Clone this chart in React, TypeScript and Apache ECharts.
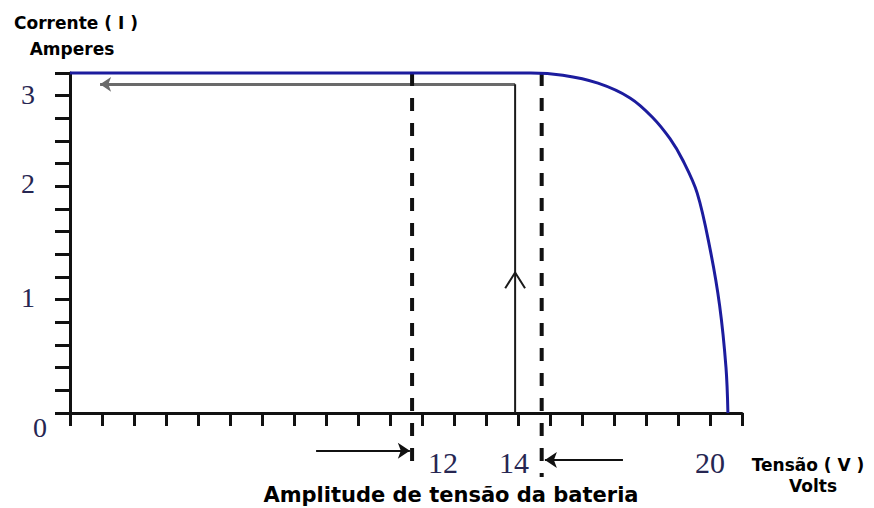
import React, { useEffect, useRef } from 'react';
import * as echarts from 'echarts';

// Axis tick labels shown
const xTickLabels = [12, 14, 20];
const yTickLabels = [0, 1, 2, 3];

// I-V curve (Volts, Amperes)
const curveV = [0, 4, 8, 12, 14.4, 15.4, 16.5, 17.5, 18.2, 18.75, 19.15, 19.6, 20.0, 20.3, 20.5, 20.56];
const curveI = [3.0, 3.0, 3.0, 3.0, 3.0, 2.98, 2.91, 2.78, 2.61, 2.42, 2.23, 1.94, 1.45, 0.95, 0.4, 0];

// Battery voltage range (dashed markers)
const rangeV = [10.69, 14.74];
const rangeTopI = [3.0, 3.0];
const rangeBottomI = [-0.5, -0.565];

// Operating point path
const opV = 13.91;
const opI = 2.9;
const arrowLeftEndV = 0.94;
const chevronV = [13.6, 13.91, 14.22];
const chevronI = [1.1, 1.24, 1.1];

// Bottom arrows pointing toward the range markers
const arrowInV = [7.69, 10.62];
const arrowInI = -0.333;
const arrowOutV = [17.28, 14.84];
const arrowOutI = -0.415;

const serif = '"Liberation Serif", "DejaVu Serif", serif';
const bold = '"DejaVu Sans", sans-serif';
const labelColor = '#262652';

export default function App() {
  const ref = useRef<HTMLDivElement>(null);
  useEffect(() => {
    document.body.style.margin = '0';
    const chart = echarts.init(ref.current!, undefined, { renderer: 'svg' });
    const curve = curveV.map((v, i) => [v, curveI[i]]);
    const xr = (pad: number[]) => ({ fontFamily: serif, fontSize: 30, color: labelColor, padding: pad });
    const yr = (pad: number[]) => ({ fontFamily: serif, fontSize: 28, color: labelColor, padding: pad });
    const option: any = {
      animation: false,
      backgroundColor: '#ffffff',
      grid: { left: 70, right: 132, top: 73, bottom: 95, containLabel: false, outerBoundsMode: 'none' },
      xAxis: {
        type: 'value',
        min: 0,
        max: 21,
        interval: 1,
        splitLine: { show: false },
        axisLine: { show: true, onZero: true, lineStyle: { color: '#111', width: 3 } },
        axisTick: { show: true, length: 13, lineStyle: { color: '#111', width: 3 } },
        axisLabel: {
          margin: 34,
          fontFamily: serif,
          fontSize: 30,
          color: labelColor,
          formatter: (v: number) => {
            const r = Math.round(v);
            if (Math.abs(v - r) > 1e-6 || !xTickLabels.includes(r)) return '';
            return `{x${r}|${r}}`;
          },
          rich: {
            x12: xr([0, 22, 0, 0]),
            x14: xr([0, 8, 0, 0]),
            x20: xr([0, 0, 0, 0]),
          },
        },
      },
      yAxis: {
        type: 'value',
        min: 0,
        max: 3,
        interval: 0.2,
        splitLine: { show: false },
        axisLine: { show: true, lineStyle: { color: '#111', width: 3 } },
        axisTick: { show: true, length: 15, lineStyle: { color: '#111', width: 3 } },
        axisLabel: {
          margin: 23,
          fontFamily: serif,
          fontSize: 28,
          color: labelColor,
          formatter: (v: number) => {
            const r = Math.round(v);
            if (Math.abs(v - r) > 1e-6 || !yTickLabels.includes(r)) return '';
            return `{y${r}|${r}}`;
          },
          rich: {
            y0: yr([28, 0, 0, 0]),
            y1: yr([0, 12, 4, 0]),
            y2: yr([0, 12, 6, 0]),
            y3: yr([42, 12, 0, 0]),
          },
        },
      },
      series: [
        {
          type: 'line',
          data: [[opV, 0], [opV, opI]],
          symbol: 'none',
          clip: false,
          lineStyle: { color: '#1a1a1a', width: 2 },
          z: 3,
        },
        {
          type: 'lines',
          coordinateSystem: 'cartesian2d',
          clip: false,
          symbol: ['none', 'arrow'],
          symbolSize: 11,
          lineStyle: { color: '#6a6a6a', width: 3, opacity: 1 },
          data: [{ coords: [[opV, opI], [arrowLeftEndV, opI]] }],
          z: 3,
        },
        {
          type: 'line',
          data: chevronV.map((v, i) => [v, chevronI[i]]),
          symbol: 'none',
          clip: false,
          lineStyle: { color: '#1a1a1a', width: 2 },
          z: 3,
        },
        ...rangeV.map((v, i) => ({
          type: 'line',
          data: [[v, rangeTopI[i]], [v, rangeBottomI[i]]],
          symbol: 'none',
          clip: false,
          lineStyle: { color: '#111', width: 4, type: [13, 12] },
          z: 4,
        })),
        {
          type: 'lines',
          coordinateSystem: 'cartesian2d',
          clip: false,
          symbol: ['none', 'arrow'],
          symbolSize: 12,
          lineStyle: { color: '#111', width: 2, opacity: 1 },
          data: [
            { coords: [[arrowInV[0], arrowInI], [arrowInV[1], arrowInI]] },
            { coords: [[arrowOutV[0], arrowOutI], [arrowOutV[1], arrowOutI]] },
          ],
          z: 3,
        },
        {
          type: 'line',
          data: curve,
          symbol: 'none',
          smooth: 0.35,
          clip: false,
          lineStyle: { color: '#1c1c9e', width: 3 },
          z: 6,
        },
      ],
      graphic: [
        { type: 'text', x: 76, y: 23, style: { text: 'Corrente ( I )', font: `bold 17px ${bold}`, fill: '#000', align: 'center', verticalAlign: 'middle' } },
        { type: 'text', x: 72, y: 49, style: { text: 'Amperes', font: `bold 17px ${bold}`, fill: '#000', align: 'center', verticalAlign: 'middle' } },
        { type: 'text', x: 808, y: 465, style: { text: 'Tensão ( V )', font: `bold 17px ${bold}`, fill: '#000', align: 'center', verticalAlign: 'middle' } },
        { type: 'text', x: 813, y: 486, style: { text: 'Volts', font: `bold 17px ${bold}`, fill: '#000', align: 'center', verticalAlign: 'middle' } },
        { type: 'text', x: 451, y: 495, style: { text: 'Amplitude de tensão da bateria', font: `bold 21px ${bold}`, fill: '#000', align: 'center', verticalAlign: 'middle' } },
      ],
    };
    chart.setOption(option);
    return () => chart.dispose();
  }, []);
  return <div ref={ref} style={{ width: 874, height: 508 }} />;
}
